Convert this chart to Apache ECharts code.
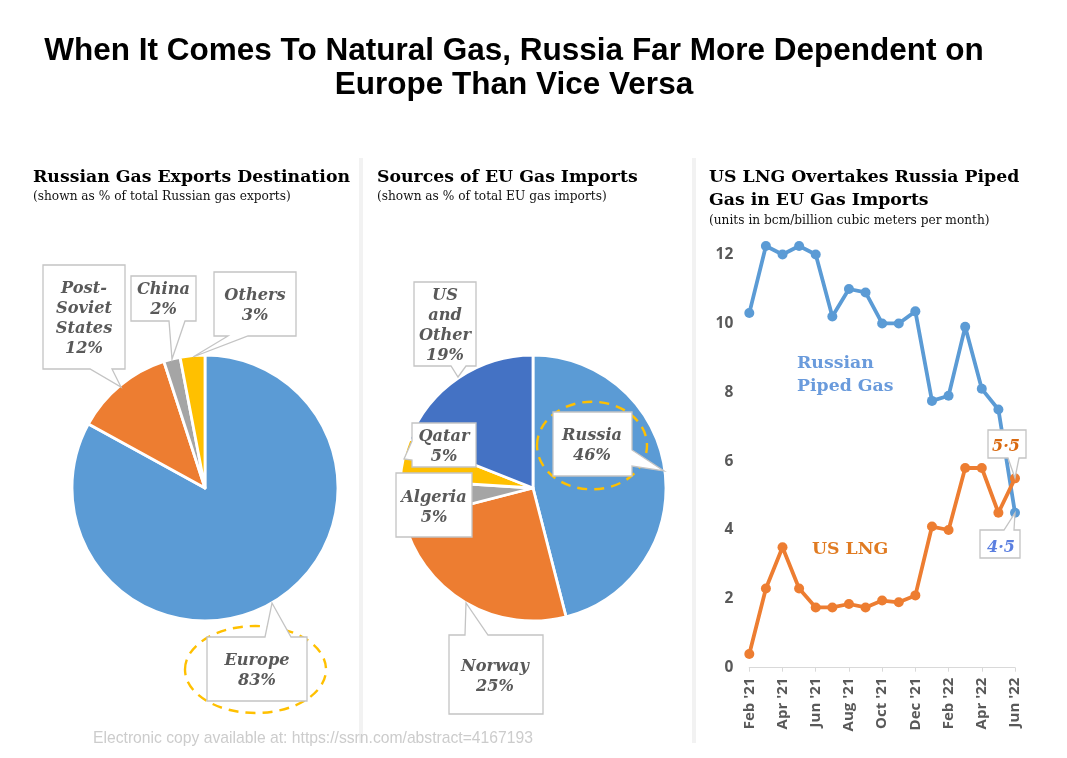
<!DOCTYPE html>
<html>
<head>
<meta charset="utf-8">
<style>html,body{margin:0;padding:0;background:#fff}#c{width:1067px;height:758px}</style>
<script src="https://cdn.jsdelivr.net/npm/echarts@6/dist/echarts.min.js"></script>
</head>
<body>
<div id="c"></div>
<script>
const destNames = ['Europe', 'Post-\nSoviet\nStates', 'China', 'Others'];
const destValues = [83, 12, 2, 3];
const srcNames = ['Russia', 'Norway', 'Algeria', 'Qatar', 'US\nand\nOther'];
const srcValues = [46, 25, 5, 5, 19];
const months = ["Feb '21","Mar '21","Apr '21","May '21","Jun '21","Jul '21","Aug '21","Sep '21","Oct '21","Nov '21","Dec '21","Jan '22","Feb '22","Mar '22","Apr '22","May '22","Jun '22"];
const russianPiped = [10.3,12.25,12.0,12.25,12.0,10.2,11.0,10.9,10.0,10.0,10.35,7.75,7.9,9.9,8.1,7.5,4.5];
const usLng = [0.4,2.3,3.5,2.3,1.75,1.75,1.85,1.75,1.95,1.9,2.1,4.1,4.0,5.8,5.8,4.5,5.5];

const SERIF = '"DejaVu Serif"';
const BLUE = '#5b9bd5', ORANGE = '#ed7d31', GREY = '#a5a5a5', GOLD = '#ffc000', NAVY = '#4472c4';
const LBL = 16.2;

function callout(points, text, cx, cy, color, size) {
  return [
    {type:'polygon', z:11, shape:{points}, style:{fill:'#fff', stroke:'#c4c4c4', lineWidth:1.3}, silent:true},
    {type:'text', z:12, x:cx, y:cy + 2, silent:true, style:{text, align:'center', verticalAlign:'middle',
      font:`italic bold ${size||LBL}px ${SERIF}`, lineHeight:20, fill:color||'#595959'}}
  ];
}
function dashed(cx, cy, rx, ry) {
  return {type:'ellipse', z:10, silent:true, shape:{cx, cy, rx, ry},
    style:{fill:null, stroke:GOLD, lineWidth:2.4, lineDash:[10,7]}};
}
function sep(x) {
  return {type:'rect', z:1, silent:true, shape:{x, y:158, width:4, height:585}, style:{fill:'#f2f2f2'}};
}
function txt(x, y, text, font, fill, extra) {
  return {type:'text', z:12, x, y, silent:true, style:Object.assign({text, font, fill, verticalAlign:'middle'}, extra||{})};
}
const lab = (names, vals, i) => names[i] + '\n' + vals[i] + '%';

const graphic = [
  sep(359), sep(692),
  dashed(255.5, 669.5, 70.5, 43.5),
  dashed(592, 445.5, 55, 43.8),
  ...callout([[207,637],[265,637],[272,603],[291,637],[307,637],[307,701],[207,701]], lab(destNames,destValues,0), 257, 669),
  ...callout([[43,265],[125,265],[125,369],[112,369],[121,387],[90,369],[43,369]], lab(destNames,destValues,1), 84, 317),
  ...callout([[131,276],[196,276],[196,321],[185,321],[172,359],[169,321],[131,321]], lab(destNames,destValues,2), 163.5, 298),
  ...callout([[214,272],[296,272],[296,336],[248,336],[193,357],[228,336],[214,336]], lab(destNames,destValues,3), 255, 304),
  ...callout([[553,412],[632,412],[632,450],[664,471],[632,466],[632,476],[553,476]], lab(srcNames,srcValues,0), 592, 444),
  ...callout([[449,635],[465,635],[466,603],[488,635],[543,635],[543,714],[449,714]], lab(srcNames,srcValues,1), 495, 675),
  ...callout([[396,473],[472,473],[472,537],[396,537]], lab(srcNames,srcValues,2), 434, 506),
  ...callout([[412,423],[476,423],[476,467],[412,467],[412,460],[404,459],[412,441]], lab(srcNames,srcValues,3), 444, 445),
  ...callout([[414,282],[476,282],[476,366],[466,366],[458,377],[451,366],[414,366]], lab(srcNames,srcValues,4), 445, 324),
  ...callout([[988,430],[1026,430],[1026,458],[1019,458],[1015,478],[1008,458],[988,458]], '5·5', 1006, 445, '#d9690f', 16),
  ...callout([[980,530],[1004,530],[1015,513],[1014,530],[1020,530],[1020,558],[980,558]], '4·5', 1001, 546, '#5b7fe0', 16),
  txt(797, 364, 'Russian', `bold 17.3px ${SERIF}`, '#6a9bdc'),
  txt(797, 387, 'Piped Gas', `bold 17.3px ${SERIF}`, '#6a9bdc'),
  txt(812, 550, 'US LNG', `bold 17.3px ${SERIF}`, '#e07b22'),
  txt(33, 197, '(shown as % of total Russian gas exports)', `12.2px ${SERIF}`, '#111'),
  txt(377, 197, '(shown as % of total EU gas imports)', `12.2px ${SERIF}`, '#111'),
  txt(709, 220.5, '(units in bcm/billion cubic meters per month)', `12.2px ${SERIF}`, '#111'),
  txt(93, 739, 'Electronic copy available at: https://ssrn.com/abstract=4167193', '15.7px "Liberation Sans"', '#cccccc'),
];

const panelTitle = {fontFamily:SERIF, fontWeight:'bold', fontSize:17.3, color:'#000', lineHeight:23};
const pie = (center, names, values, colors) => ({
  type:'pie', center, radius:[0,133], startAngle:90, clockwise:true, silent:true, animation:false,
  label:{show:false}, labelLine:{show:false},
  itemStyle:{borderColor:'#fff', borderWidth:2.8},
  data:names.map((n,i)=>({name:n, value:values[i], itemStyle:{color:colors[i]}}))
});

const option = {
  animation:false,
  backgroundColor:'#fff',
  title:[
    {text:'When It Comes To Natural Gas, Russia Far More Dependent on\nEurope Than Vice Versa', left:514, top:35, padding:0, textAlign:'center',
      textStyle:{fontFamily:'"Liberation Sans"', fontWeight:'bold', fontSize:31.5, color:'#000', lineHeight:33.5}},
    {text:'Russian Gas Exports Destination', left:33, top:166, padding:0, textStyle:panelTitle},
    {text:'Sources of EU Gas Imports', left:377, top:166, padding:0, textStyle:panelTitle},
    {text:'US LNG Overtakes Russia Piped\nGas in EU Gas Imports', left:709, top:166, padding:0, textStyle:panelTitle},
  ],
  grid:{left:749.3, width:265.7, top:185.7, height:482, containLabel:false},
  xAxis:{type:'category', data:months, boundaryGap:false,
    axisLine:{lineStyle:{color:'#d9d9d9', width:1.2}},
    axisTick:{show:true, length:4, interval:1, alignWithLabel:true, lineStyle:{color:'#d9d9d9'}},
    axisLabel:{interval:1, rotate:90, color:'#595959', fontFamily:'"Open Sans"', fontWeight:'bold', fontSize:15, margin:10}},
  yAxis:{type:'value', min:0, max:14, interval:2, splitLine:{show:false}, axisLine:{show:false}, axisTick:{show:false},
    axisLabel:{showMaxLabel:false, color:'#595959', fontFamily:'"Open Sans"', fontWeight:'bold', fontSize:15.5, margin:16, padding:[2,0,0,0]}},
  series:[
    pie([205,488], destNames, destValues, [BLUE,ORANGE,GREY,GOLD]),
    pie([533,488], srcNames, srcValues, [BLUE,ORANGE,GREY,GOLD,NAVY]),
    {type:'line', name:'Russian Piped Gas', data:russianPiped, symbol:'circle', symbolSize:10, silent:true,
      lineStyle:{color:BLUE, width:3.8}, itemStyle:{color:BLUE}},
    {type:'line', name:'US LNG', data:usLng, symbol:'circle', symbolSize:10, silent:true,
      lineStyle:{color:ORANGE, width:3.8}, itemStyle:{color:ORANGE}},
  ],
  graphic
};
echarts.init(document.getElementById('c'), null, {renderer:'canvas'}).setOption(option);
</script>
</body>
</html>
